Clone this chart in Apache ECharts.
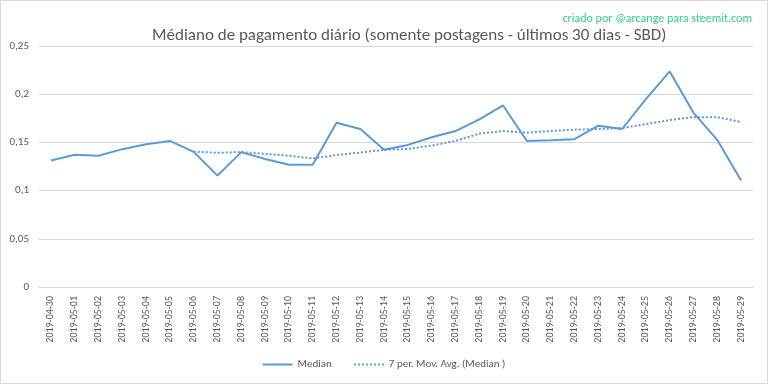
<!DOCTYPE html>
<html>
<head>
<meta charset="utf-8">
<script src="https://cdn.jsdelivr.net/npm/echarts@6/dist/echarts.min.js"></script>
<style>
html,body{margin:0;padding:0;background:#fff;}
#c{width:768px;height:384px;box-sizing:border-box;border:1px solid #d9d9d9;}
</style>
</head>
<body>
<div id="c"></div>
<script>
const categories = ["2019-04-30","2019-05-01","2019-05-02","2019-05-03","2019-05-04","2019-05-05","2019-05-06","2019-05-07","2019-05-08","2019-05-09","2019-05-10","2019-05-11","2019-05-12","2019-05-13","2019-05-14","2019-05-15","2019-05-16","2019-05-17","2019-05-18","2019-05-19","2019-05-20","2019-05-21","2019-05-22","2019-05-23","2019-05-24","2019-05-25","2019-05-26","2019-05-27","2019-05-28","2019-05-29"];
const median = [0.1313,0.1371,0.1361,0.1430,0.1481,0.1515,0.1402,0.1155,0.1399,0.1327,0.1268,0.1268,0.1704,0.1639,0.1423,0.1474,0.1553,0.1618,0.1738,0.1883,0.1515,0.1522,0.1533,0.1673,0.1639,0.1948,0.2236,0.1807,0.1526,0.1104];
const movAvg = [null,null,null,null,null,null,0.1404,0.1392,0.1399,0.1382,0.1361,0.1334,0.1368,0.1395,0.1423,0.1433,0.1467,0.1515,0.1591,0.1618,0.1601,0.1618,0.1632,0.1639,0.1649,0.1690,0.1731,0.1762,0.1762,0.1711];
const yTicks = [0,0.05,0.1,0.15,0.2,0.25];
const titleText = "Médiano de pagamento diário (somente postagens - últimos 30 dias - SBD)";
const watermark = "criado por @arcange para steemit.com";
const seriesNames = ["Median","7 per. Mov. Avg. (Median )"];

let dots = '';
for (let i = 0; i < 8; i++) { const x = i * 4; dots += `M${x},4L${x+2},4L${x+2},6L${x},6Z `; }

const chart = echarts.init(document.getElementById('c'), null, {renderer:'canvas'});
const font = 'Carlito, "Liberation Sans Narrow", Lato, sans-serif';
chart.setOption({
  animation:false,
  backgroundColor:'#fff',
  textStyle:{fontFamily:font},
  title:[{
    text:titleText, left:146, top:21,
    textStyle:{fontFamily:font,fontSize:17,fontWeight:'normal',color:'#595959'}
  },{
    text:watermark, right:10, top:7,
    textStyle:{fontFamily:font,fontSize:12,fontWeight:'normal',color:'#33cc99'}
  }],
  legend:{
    bottom:8, left:'center', itemWidth:30, itemHeight:10, itemGap:22,
    textStyle:{fontFamily:font,fontSize:11,color:'#595959'},
    data:[{name:seriesNames[0],icon:'path://M0,4L30,4L30,6L0,6Z'},{name:seriesNames[1],icon:'path://'+dots.trim()}]
  },
  grid:{left:38,right:14,top:45,bottom:96,containLabel:false},
  xAxis:{
    type:'category', data:categories, boundaryGap:true,
    axisLine:{lineStyle:{color:'#d9d9d9'}},
    axisTick:{show:false},
    axisLabel:{rotate:90,interval:0,fontSize:10,color:'#595959',margin:9,fontFamily:font}
  },
  yAxis:{
    type:'value', min:0, max:0.25, interval:0.05,
    axisLine:{show:false}, axisTick:{show:false},
    splitLine:{lineStyle:{color:'#d9d9d9'}},
    axisLabel:{fontSize:11,color:'#595959',margin:10,fontFamily:font,
      formatter:v=>{const t=yTicks.find(x=>Math.abs(x-v)<1e-9);return String(+(t??v).toFixed(2)).replace('.',',');}}
  },
  series:[{
    name:seriesNames[0], type:'line', data:median, symbol:'none',
    lineStyle:{color:'#5b9bd5',width:2}, itemStyle:{color:'#5b9bd5'}
  },{
    name:seriesNames[1], type:'line', data:movAvg, symbol:'none',
    lineStyle:{color:'#5b9bd5',width:2,type:[2,2]}, itemStyle:{color:'#5b9bd5'}
  }]
});
</script>
</body>
</html>
